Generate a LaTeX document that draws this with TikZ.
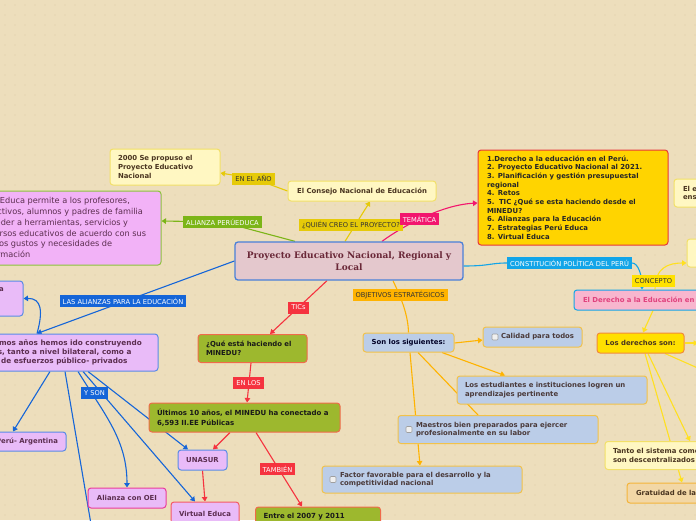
\documentclass[tikz,border=0pt]{standalone}
\usepackage{fontspec}
\setmainfont{DejaVu Sans}
\newfontfamily\titlefont{DejaVu Serif}
\usetikzlibrary{arrows.meta}
\pgfdeclarelayer{bgl}
\pgfdeclarelayer{edges}
\pgfsetlayers{bgl,edges,main}
\definecolor{bgc}{HTML}{EDDEBC}
\definecolor{dotc}{HTML}{DCCAA4}
\definecolor{lyfill}{HTML}{FFF7C2}
\definecolor{lyline}{HTML}{F2E068}
\definecolor{centfill}{HTML}{E4C8CD}
\definecolor{centline}{HTML}{4A80D8}
\definecolor{centtext}{HTML}{6A2838}
\definecolor{golden}{HTML}{E6CA08}
\definecolor{magen}{HTML}{F2166E}
\definecolor{greenl}{HTML}{7CB518}
\definecolor{bluel}{HTML}{1565D8}
\definecolor{redl}{HTML}{F5333F}
\definecolor{orangel}{HTML}{FFB300}
\definecolor{cyanl}{HTML}{12A5E8}
\definecolor{concl}{HTML}{FFE100}
\definecolor{listfill}{HTML}{FFD400}
\definecolor{listline}{HTML}{E8383A}
\definecolor{pinkfill}{HTML}{F2B2F7}
\definecolor{pinkline}{HTML}{8CC43C}
\definecolor{violfill}{HTML}{E9BBF8}
\definecolor{violline}{HTML}{5A8BE6}
\definecolor{violtext}{HTML}{5C2E50}
\definecolor{oeiline}{HTML}{E93C9C}
\definecolor{veline}{HTML}{F45A64}
\definecolor{olive}{HTML}{9DB82E}
\definecolor{oliveline}{HTML}{F06A4A}
\definecolor{lbfill}{HTML}{BBCDE8}
\definecolor{lbline}{HTML}{F2C24A}
\definecolor{lbtext}{HTML}{4A3A3A}
\definecolor{derfill}{HTML}{F8B6CE}
\definecolor{dertext}{HTML}{E0427E}
\definecolor{ldfill}{HTML}{FFE000}
\definecolor{ldline}{HTML}{F28A3A}
\definecolor{yconn}{HTML}{FFE020}
\definecolor{gratfill}{HTML}{F2D7A6}
\definecolor{gratline}{HTML}{F4B43A}
\definecolor{browntext}{HTML}{4A3520}
\begin{document}
\begin{tikzpicture}[x=1pt,y=-1pt,
  box/.style={draw, rounded corners=3pt, line width=1pt, inner ysep=0pt,
    font=\bfseries\fontsize{6.9}{8.7}\selectfont},
  lbl/.style={rectangle, inner xsep=3pt, inner ysep=0pt, minimum height=12pt,
    font=\fontsize{6.7}{7.5}\selectfont},
  conn/.style={line width=1.1pt},
  arr/.style={-{Triangle[length=4.5pt,width=5.5pt]}},
  chk/.style={draw=gray!75, fill=gray!12, line width=0.6pt, rounded corners=1pt,
    minimum size=6pt, inner sep=0pt}]
\begin{pgfonlayer}{bgl}
\fill[bgc] (0,0) rectangle (696,520);
\foreach \i in {0,...,69}{\foreach \j in {0,...,51}{
  \fill[dotc] (\i*10+5,\j*10+5) circle (0.7);}}
\end{pgfonlayer}
\useasboundingbox (0,0) rectangle (696,520);
\clip (0,0) rectangle (696,520);

% ---------- nodes ----------
\node[box, fill=centfill, draw=centline, line width=1.3pt, minimum width=228, minimum height=38,
  align=center, text=centtext, font=\titlefont\bfseries\fontsize{9}{11.5}\selectfont]
  (c) at (349,261) {Proyecto Educativo Nacional, Regional y\\Local};

\node[box, fill=lyfill, draw=lyline, minimum width=148, minimum height=20, text=browntext]
  (cons) at (362,191) {El Consejo Nacional de Educación};
\node[box, fill=lyfill, draw=lyline, minimum height=36, inner xsep=8pt, text width=94,
  align=left, text=browntext] (a2000) at (165,167) {2000 Se propuso el\\Proyecto Educativo\\Nacional};

\node[box, fill=listfill, draw=listline, minimum height=95, inner xsep=9pt, text width=172,
  align=left, text=black!85] (lista) at (573,197.5)
  {1.Derecho a la educación en el Perú.\\2. Proyecto Educativo Nacional al 2021.\\3. Planificación y gestión presupuestal\\regional\\4. Retos\\5.\ \ TIC ¿Qué se esta haciendo desde el\\MINEDU?\\6. Alianzas para la Educación\\7. Estrategias Perú Educa\\8. Virtual Educa};

\node[box, fill=lyfill, draw=lyline, minimum height=28, inner xsep=9pt, text width=108,
  align=left, text=browntext] (rb1) at (737,193) {El estado\\enseñanza};
\node[box, fill=lyfill, draw=lyline, minimum height=28, minimum width=120] (rb2) at (747,253) {};

\node[box, fill=pinkfill, draw=pinkline, minimum width=221, minimum height=74] (pe) at (50.5,228) {};
\node[anchor=west, inner sep=0pt, align=left, text=violtext,
  font=\fontsize{8.2}{10.8}\selectfont] (petext) at (-18.5,227.5)
  {PerúEduca permite a los profesores,\\directivos, alumnos y padres de familia\\acceder a herramientas, servicios y\\recursos educativos de acuerdo con sus\\y a los gustos y necesidades de\\información};

\node[box, fill=violfill, draw=violline, minimum width=83, minimum height=35] (abox) at (-18.5,298.5) {};
\node[anchor=east, inner sep=0pt, text=violtext, font=\bfseries\fontsize{6.9}{8}\selectfont] (atext) at (4,290) {a};

\node[box, fill=violfill, draw=violline, minimum width=216, minimum height=37, align=center,
  text=violtext, font=\bfseries\fontsize{7.3}{9}\selectfont] (viol) at (50,352.5)
  {En los últimos años hemos ido construyendo\\alianzas, tanto a nivel bilateral, como a\\través de esfuerzos público- privados};

\node[box, fill=violfill, draw=violline, minimum width=78, minimum height=19, text=violtext] (perua) at (27,441.5) {Perú- Argentina};
\node[box, fill=violfill, draw=oeiline, minimum width=78, minimum height=20, text=violtext] (oei) at (127,498) {Alianza con OEI};
\node[box, fill=violfill, draw=violline, minimum width=49, minimum height=20, text=violtext] (un) at (202.5,460) {UNASUR};
\node[box, fill=violfill, draw=veline, minimum width=68, minimum height=24, text=violtext] (ve) at (205,514) {Virtual Educa};

\node[box, fill=olive, draw=oliveline, minimum height=28, inner xsep=8pt, text width=93,
  align=left, text=black!90] (qmin) at (252.5,348.5) {¿Qué está haciendo el\\MINEDU?};
\node[box, fill=olive, draw=oliveline, minimum height=29, inner xsep=8pt, text width=175,
  align=left, text=black!90, font=\bfseries\fontsize{7}{9.5}\selectfont] (ult) at (244.5,417.5)
  {Últimos 10 años, el MINEDU ha conectado a\\6,593 II.EE Públicas};
\node[box, fill=olive, draw=oliveline, minimum height=26, inner xsep=8pt, text width=109,
  align=left, text=black!90, font=\bfseries\fontsize{7}{9}\selectfont] (entre) at (318,520)
  {Entre el 2007 y 2011\\\ };

\node[box, fill=lbfill, draw=lbline, minimum width=91, minimum height=19, text=black!85!blue] (son) at (408.5,342.5) {Son los siguientes:};
\node[box, fill=lbfill, draw=lbline, minimum height=20, inner xsep=7pt, text width=85,
  align=left, text=lbtext] (cal) at (532.5,337) {\hspace*{11pt}Calidad para todos};
\node[chk] (chk1) at (495,337) {};
\node[box, fill=lbfill, draw=lbline, minimum height=28, inner xsep=8pt, text width=174,
  align=left, text=lbtext] (est) at (552,390)
  {Los estudiantes e instituciones logren un\\aprendizajes pertinente};
\node[box, fill=lbfill, draw=lbline, minimum height=28, inner xsep=7pt, text width=186,
  align=left, text=lbtext] (mae) at (498,429.5)
  {\hspace*{11pt}Maestros bien preparados para ejercer\\\hspace*{11pt}profesionalmente en su labor};
\node[chk] (chk2) at (409,429.5) {};
\node[box, fill=lbfill, draw=lbline, minimum height=27, inner xsep=7pt, text width=186,
  align=left, text=lbtext] (fac) at (422,479.5)
  {\hspace*{11pt}Factor favorable para el desarrollo y la\\\hspace*{11pt}competitividad nacional};
\node[chk] (chk3) at (333,479.5) {};

\node[box, fill=derfill, draw=cyanl, minimum height=20, inner xsep=9pt, text width=208,
  align=left, text=dertext] (der) at (687,300) {El Derecho a la Educación en el Perú};
\node[box, fill=ldfill, draw=ldline, minimum width=87, minimum height=20, text=browntext] (ld) at (640.5,343) {Los derechos son:};
\node[box, fill=lyfill, draw=lyline, minimum height=28, inner xsep=8pt, text width=179,
  align=left, text=browntext] (tanto) at (702.5,455.5)
  {Tanto el sistema como la gestión\\son descentralizados};
\node[box, fill=gratfill, draw=gratline, minimum height=20, inner xsep=9pt, text width=155,
  align=left, text=browntext] (grat) at (713.5,493) {Gratuidad de la educación};

% ---------- labels ----------
\node[lbl, fill=golden, text=black!80] (lano) at (253.5,178.5) {EN EL AÑO};
\node[lbl, fill=golden, text=black!80] (lquien) at (351,225) {¿QUIÉN CREO EL PROYECTO?};
\node[lbl, fill=magen, text=white] (ltem) at (419.5,219) {TEMÁTICA};
\node[lbl, fill=greenl, text=white] (lpe) at (222.5,222) {ALIANZA PERÚEDUCA};
\node[lbl, fill=bluel, text=white] (lali) at (123,301) {LAS ALIANZAS PARA LA EDUCACIÓN};
\node[lbl, fill=bluel, text=white] (lyson) at (94.5,393) {Y SON};
\node[lbl, fill=redl, text=white] (ltic) at (298.5,307.5) {TICs};
\node[lbl, fill=redl, text=white] (llos) at (248.5,383) {EN LOS};
\node[lbl, fill=redl, text=white] (ltam) at (277.5,469) {TAMBIÉN};
\node[lbl, fill=orangel, text=black!80] (lobj) at (400,295) {OBJETIVOS ESTRATÉGICOS};
\node[lbl, fill=cyanl, text=white] (lcon) at (569.5,263) {CONSTITUCIÓN POLÍTICA DEL PERÚ};
\node[lbl, fill=concl, text=black!80] (lconc) at (653.5,281) {CONCEPTO};

\coordinate (offa) at (92,530);
\coordinate (offb) at (698,343);
\coordinate (offc) at (700,369);

% ---------- connectors ----------
\begin{pgfonlayer}{edges}
\draw[conn, golden, arr] (cons.west) -- (lano.center) -- ([yshift=-6pt]a2000.east);
\draw[conn, golden, arr] ([xshift=-4pt]c.north) -- ([xshift=8pt]cons.south);
\draw[conn, magen, arr] ([xshift=33pt]c.north) .. controls (400,228) and (440,205) .. ([yshift=-5.5pt]lista.west);
\draw[conn, greenl, arr] ([xshift=-54pt]c.north) -- (lpe.center) -- ([yshift=7pt]pe.east);
\draw[conn, bluel, arr] (c.west) -- ([xshift=-13pt]viol.north);
\draw[conn, bluel, arr] ([xshift=-13pt]viol.north) .. controls (43,312) and (42,298) .. (abox.east);
\draw[conn, bluel, arr] ([xshift=0pt]viol.south) -- ([xshift=-14pt]perua.north);
\draw[conn, bluel] ([xshift=15pt]viol.south) -- (offa);
\draw[conn, bluel, arr] ([xshift=28pt]viol.south) .. controls (105,415) and (127,440) .. (oei.north);
\draw[conn, bluel, arr] ([xshift=33pt]viol.south) -- ([xshift=-10pt]ve.north);
\draw[conn, bluel, arr] ([xshift=38pt]viol.south) -- ([xshift=-14.5pt]un.north);
\draw[conn, redl, arr] ([xshift=-22pt]c.south) -- ([xshift=17.5pt]qmin.north);
\draw[conn, redl, arr] ([xshift=-1.5pt]qmin.south) -- ([xshift=2.5pt]ult.north);
\draw[conn, redl, arr] ([xshift=-14.5pt]ult.south) -- ([xshift=10.5pt]un.north);
\draw[conn, redl, arr] ([xshift=11.5pt]ult.south) -- ([xshift=-16pt]entre.north);
\draw[conn, redl, arr] (un.south) -- (ve.north);
\draw[conn, orangel] ([xshift=44pt]c.south) .. controls (402,300) and (408,315) .. (son.north);
\draw[conn, orangel, arr] ([yshift=-0.5pt]son.east) -- ([yshift=-3pt]cal.west);
\draw[conn, orangel, arr] ([xshift=33.5pt]son.south) -- ([xshift=-47pt]est.north);
\draw[conn, orangel] ([xshift=9.5pt]son.south) -- ([xshift=-20pt]mae.north);
\draw[conn, orangel, arr] ([xshift=1.5pt]son.south) -- ([xshift=-2pt]fac.north);
\draw[conn, cyanl] ([yshift=-5pt]c.east) .. controls (490,266) and (490,263) .. (lcon.west);
\draw[conn, cyanl, arr] (lcon.east) .. controls +(6,0) and +(0,-14) .. ([xshift=-45pt]der.north);
\draw[conn, yconn, arr] ([xshift=-32pt]der.north) .. controls +(0,-22) and +(-18,0) .. ([yshift=-10pt]rb2.west);
\draw[conn, yconn, arr] ([xshift=-34pt]der.south) -- ([xshift=2.5pt]ld.north);
\draw[conn, yconn, arr] (ld.east) -- (offb);
\draw[conn, yconn] ([xshift=24.5pt]ld.south) -- (offc);
\draw[conn, yconn, arr] ([xshift=7.5pt]ld.south) -- ([xshift=-12.5pt]tanto.north);
\draw[conn, yconn, arr] ([xshift=4.5pt]ld.south) -- ([xshift=-31.5pt]grat.north);
\end{pgfonlayer}
\end{tikzpicture}
\end{document}
